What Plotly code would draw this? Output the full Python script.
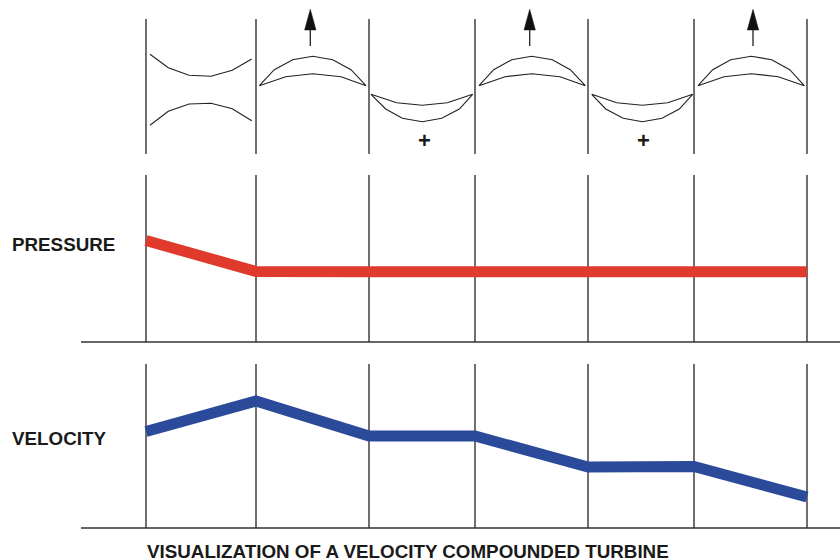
import plotly.graph_objects as go

# Stage boundaries (shared horizontal positions)
stations = [146, 256, 369, 475, 588, 694, 807]
pressure = [240.5, 271.5, 271.7, 271.7, 271.7, 271.7, 271.7]
velocity = [431.5, 401, 436, 436, 467, 466.5, 497]

top_span = [19, 154]
mid_span = [175, 342]
low_span = [364, 528]
baseline_x = [81, 840]
baselines = [342, 528]

# Nozzle walls
nozzle_x = [150, 168.3, 189, 211, 232.3, 251.7]
nozzle_upper = [54.3, 67.7, 75.3, 76.3, 70.3, 59]
nozzle_lower = [125.3, 111.3, 104, 103.3, 108.7, 120.7]

# Moving blades
moving_y = [85.7, 69.7, 59.7, 56.3, 59.7, 69.7, 85.7, 76.7, 73.7, 76.7, 85.7]
moving_x1 = [259.3, 274.3, 292.7, 312.7, 332.7, 351, 366, 341, 312.7, 285.7, 259.3]
moving_x2 = [479, 493.7, 511.7, 531.7, 552.3, 570.3, 585.3, 560, 531.7, 505, 479]
moving_x3 = [698, 712.7, 730.7, 751.3, 771.7, 789.7, 804.3, 778.3, 751.3, 724, 698]

# Fixed blades
fixed_y = [94.3, 109, 118.3, 121.7, 118.3, 109, 94.3, 102.7, 105.3, 102.7, 94.3]
fixed_x1 = [371, 385.7, 402.3, 422.3, 441.7, 459.3, 472.7, 447.3, 422.3, 396.7, 371]
fixed_x2 = [591.7, 605.7, 623.3, 642.3, 662, 679.3, 692.7, 667.7, 642.3, 616.7, 591.7]

# Arrows
arrow_x = [310.3, 529.7, 753]
arrow_shaft_y = [46, 29]
arrow_head_y = [9.3, 30, 30, 9.3]
arrow_head_half = 5.7
plus_x = [424, 643.3]
plus_y = 140

INK = "#333333"
RED = "#df3a2c"
BLUE = "#2c4a9a"
TEXT = "#1a1a1a"
FONT = "Liberation Sans"

fig = go.Figure()


def line(x, y, color=INK, width=1.2):
    fig.add_trace(go.Scatter(x=x, y=y, mode="lines", hoverinfo="skip",
                             line=dict(color=color, width=width)))


for span in (top_span, mid_span, low_span):
    for s in stations:
        line([s, s], span, "#333333", 1.4)
for b in baselines:
    line(baseline_x, [b, b], "#333333", 1.4)

line(nozzle_x, nozzle_upper, "#222222", 1.1)
line(nozzle_x, nozzle_lower, "#222222", 1.1)
for mx in (moving_x1, moving_x2, moving_x3):
    line(mx, moving_y, "#222222", 1.1)
for fx in (fixed_x1, fixed_x2):
    line(fx, fixed_y, "#222222", 1.1)

for ax in arrow_x:
    line([ax, ax], arrow_shaft_y, "#222222", 1.3)
    fig.add_trace(go.Scatter(
        x=[ax, ax - arrow_head_half, ax + arrow_head_half, ax], y=arrow_head_y,
        mode="lines", fill="toself", fillcolor="#111111", hoverinfo="skip",
        line=dict(color="#111111", width=0.5)))

line(stations, pressure, RED, 11)
line(stations, velocity, BLUE, 11)


def label(x, y, text, size=18.8, anchor="left"):
    fig.add_annotation(x=x, y=y, text=text, showarrow=False, xanchor=anchor,
                       yanchor="middle", xref="x", yref="y", borderpad=0,
                       font=dict(family=FONT, size=size, color=TEXT, weight="bold"))


label(11, 244, "PRESSURE")
label(11, 438, "VELOCITY")
label(146, 551, "VISUALIZATION OF A VELOCITY COMPOUNDED TURBINE")
for px in plus_x:
    label(px, plus_y, "+", 22, "center")

fig.update_layout(
    width=840, height=560, showlegend=False,
    margin=dict(l=0, r=0, t=0, b=0),
    paper_bgcolor="white", plot_bgcolor="white",
    xaxis=dict(range=[0, 840], visible=False, fixedrange=True),
    yaxis=dict(range=[560, 0], visible=False, fixedrange=True),
)
fig.write_html("out.html", config={"displayModeBar": False},
               post_script="document.body.style.margin='0';document.documentElement.style.overflow='hidden';")
